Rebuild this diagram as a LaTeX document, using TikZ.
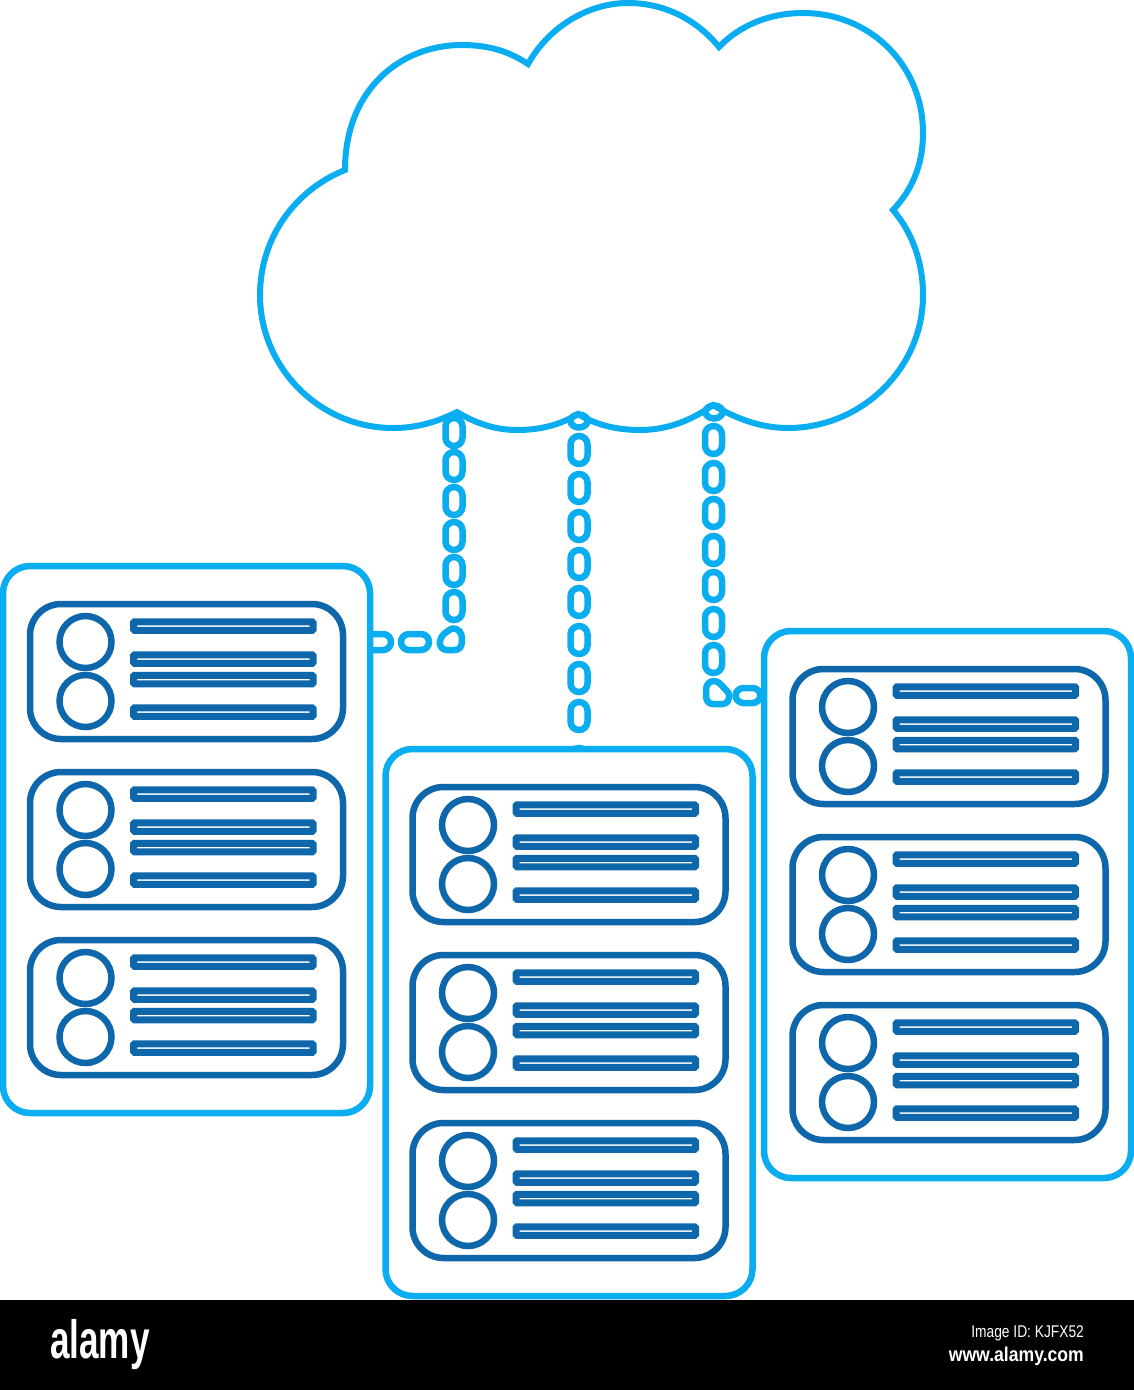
\documentclass[tikz,border=0pt]{standalone}
\usepackage{fontspec}
\usetikzlibrary{shapes.geometric}
\setmainfont{Liberation Sans}
\definecolor{lightb}{HTML}{0AADEF}
\definecolor{darkb}{HTML}{0F67AB}
\tikzset{
  x=1pt,y=-1pt,
  panelbox/.style={draw=lightb,line width=6.5pt,rounded corners=27pt,minimum width=367pt,minimum height=547pt,inner sep=0pt,fill=white},
  unitbox/.style={draw=darkb,line width=6.5pt,rounded corners=31pt,minimum width=313pt,minimum height=135pt,inner sep=0pt},
  disc/.style={circle,draw=darkb,line width=6.5pt,minimum size=52pt,inner sep=0pt},
  barbox/.style={draw=darkb,line width=7pt,fill=white,rounded corners=1pt,minimum width=179.5pt,minimum height=8.5pt,inner sep=0pt},
  vlink/.style={draw=lightb,line width=6.5pt,rounded corners=8.5pt,minimum width=17pt,minimum height=28pt,inner sep=0pt},
  hlink/.style={draw=lightb,line width=6.5pt,rounded corners=8pt,minimum width=28pt,minimum height=16pt,inner sep=0pt},
  toplink/.style={draw=lightb,line width=6.5pt,ellipse,minimum width=17pt,minimum height=13pt,inner sep=0pt},
  chainline/.style={draw=lightb,line width=6.5pt,line join=round},
  cloudline/.style={draw=lightb,line width=6pt,line join=miter},
  foot/.style={text=white,inner sep=0pt}
}
\newcommand{\serverunit}[3]{%
  \node[unitbox] (#1) at (#2,#3) {};
  \node[disc] (#1c1) at (#2-101,#3-29.5) {};
  \node[disc] (#1c2) at (#2-101,#3+29.5) {};
  \node[barbox] (#1b1) at (#2+36.8,#3-45.5) {};
  \node[barbox] (#1b2) at (#2+36.8,#3-12.5) {};
  \node[barbox] (#1b3) at (#2+36.8,#3+8) {};
  \node[barbox] (#1b4) at (#2+36.8,#3+40.5) {};
}
\newcommand{\serverpanel}[4]{%
  \node[panelbox] (#1) at (#2,#3) {};
  \serverunit{#1u1}{#4}{#3-168}
  \serverunit{#1u2}{#4}{#3}
  \serverunit{#1u3}{#4}{#3+168}
}
\begin{document}
\begin{tikzpicture}
\useasboundingbox (0,0) rectangle (1134,1390);
\fill[white] (0,0) rectangle (1134,1390);
% chains behind the panels and cloud
\foreach \yy [count=\i] in {432,466,501,536,571,606}
  \node[vlink] (la\i) at (454,\yy) {};
\foreach \yy [count=\i] in {450,488,526,564,602,640,678,716,762}
  \node[vlink] (mi\i) at (579,\yy) {};
\foreach \yy [count=\i] in {440,477,513,550,586,623,659}
  \node[vlink] (ri\i) at (713.5,\yy) {};
\node[hlink] (lh1) at (415,642) {};
\node[hlink] (lh0) at (377,642) {};
\node[hlink,minimum width=25pt,minimum height=15pt] (rh1) at (748,695.5) {};
% corner links
\path[chainline] (452,628.5) .. controls (458,628) and (462,632) .. (462,639)
  .. controls (462,647) and (460,650) .. (454,650) -- (447,650)
  .. controls (442,650) and (439,646) .. (440,641)
  .. controls (441,635) and (446,632) .. (452,628.5) -- cycle;
\path[chainline] (714,681) .. controls (719,681) and (722,686) .. (725,689)
  .. controls (731,692) and (731,703) .. (723,704) -- (713,704)
  .. controls (708,704) and (706,700) .. (706,695) -- (706,690)
  .. controls (706,685) and (709,681) .. (714,681) -- cycle;
% top small links
\node[toplink] (mt) at (579,421) {};
\node[toplink] (rt) at (714,412) {};
% cloud
\path[cloudline] (345,170)
  .. controls (345,90) and (400,45) .. (462,45)
  .. controls (490,45) and (510,52) .. (528,64)
  .. controls (550,25) and (590,3) .. (628,3)
  .. controls (665,3) and (697,20) .. (719,47)
  .. controls (740,25) and (770,13) .. (803,13)
  .. controls (870,13) and (923,65) .. (923,133)
  .. controls (923,165) and (912,190) .. (893,210)
  .. controls (912,232) and (923,262) .. (923,295)
  .. controls (923,370) and (860,428) .. (788,428)
  .. controls (760,428) and (735,418) .. (713,405)
  .. controls (692,420) and (668,430) .. (640,430)
  .. controls (617,430) and (596,425) .. (578,414)
  .. controls (560,425) and (540,430) .. (517,430)
  .. controls (495,430) and (475,423) .. (457,412)
  .. controls (435,423) and (415,428) .. (393,428)
  .. controls (320,428) and (260,368) .. (260,295)
  .. controls (260,238) and (295,190) .. (345,170) -- cycle;
% server panels
\serverpanel{pa}{186.5}{839.5}{186.5}
\serverpanel{pb}{569}{1022.5}{569}
\serverpanel{pc}{947.5}{904.5}{949}
% footer
\fill[black] (0,1300) rectangle (1134,1390);
\node[foot,anchor=base west,font=\bfseries\fontsize{54}{54}\selectfont,xscale=.65] (logo) at (50,1358.5) {alamy};
\node[foot,anchor=base east,font=\fontsize{17}{18}\selectfont,xscale=.81] (iid) at (1084,1337) {Image ID: KJFX52};
\node[foot,anchor=base east,font=\bfseries\fontsize{20}{20}\selectfont,xscale=.88] (www) at (1084,1361.5) {www.alamy.com};
\end{tikzpicture}
\end{document}
